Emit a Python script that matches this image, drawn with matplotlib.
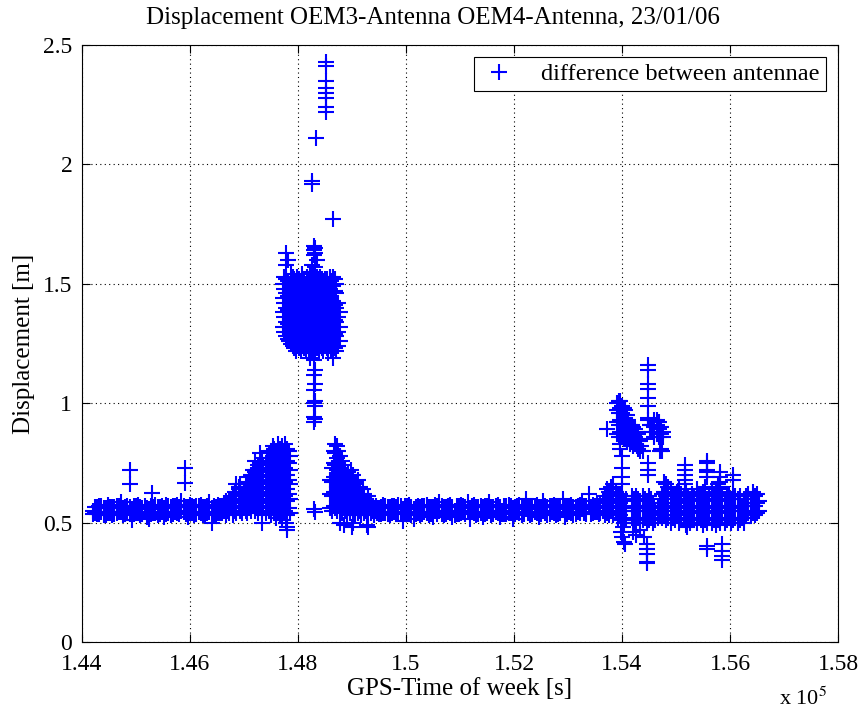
import matplotlib.pyplot as plt
import numpy as np

plt.rcParams['font.family'] = ['Liberation Serif', 'DejaVu Serif']
plt.rcParams['mathtext.fontset'] = 'stix'

# GPS time of week [s] / displacement [m] between the OEM3 and OEM4 antennae

# quiet stretch at the start of the session (two solutions per epoch)
base_a_t = [144200, 144240, 144280, 144320, 144360, 144400, 144440, 144480, 144520, 144560,
            144600, 144640, 144680, 144720, 144760, 144800, 144840, 144880, 144920, 144960,
            145000, 145040, 145080, 145120, 145160, 145200, 145240, 145280, 145320, 145360,
            145400, 145440, 145480, 145520, 145560, 145600, 145640, 145680, 145720, 145760,
            145800, 145840, 145880, 145920, 145960, 146000, 146040, 146080, 146120, 146160,
            146200, 146240, 146280, 146320, 146360, 146400, 146440, 146480, 146520, 146560]
base_a_y = [0.55, 0.565, 0.535, 0.57, 0.545, 0.56, 0.53, 0.575, 0.54, 0.565,
            0.535, 0.57, 0.545, 0.585, 0.53, 0.565, 0.55, 0.535, 0.51, 0.57,
            0.54, 0.575, 0.53, 0.56, 0.545, 0.525, 0.515, 0.57, 0.54, 0.575,
            0.53, 0.565, 0.545, 0.525, 0.575, 0.54, 0.53, 0.57, 0.545, 0.575,
            0.535, 0.59, 0.545, 0.565, 0.525, 0.575, 0.54, 0.53, 0.57, 0.545,
            0.575, 0.53, 0.565, 0.54, 0.585, 0.50, 0.57, 0.535, 0.575, 0.54]
base_a_y2 = [0.535, 0.54, 0.565, 0.535, 0.57, 0.53, 0.56, 0.54, 0.565, 0.53,
             0.565, 0.54, 0.57, 0.545, 0.56, 0.535, 0.57, 0.565, 0.555, 0.535,
             0.57, 0.54, 0.565, 0.535, 0.57, 0.56, 0.555, 0.535, 0.565, 0.54,
             0.565, 0.535, 0.57, 0.56, 0.535, 0.57, 0.565, 0.535, 0.57, 0.54,
             0.565, 0.55, 0.57, 0.535, 0.565, 0.54, 0.57, 0.565, 0.535, 0.57,
             0.54, 0.565, 0.535, 0.57, 0.545, 0.56, 0.535, 0.565, 0.54, 0.57]

# quiet stretch in the middle of the session (two solutions per epoch)
base_b_t = [149500, 149540, 149580, 149620, 149660, 149700, 149740, 149780, 149820, 149860,
            149900, 149940, 149980, 150020, 150060, 150100, 150140, 150180, 150220, 150260,
            150300, 150340, 150380, 150420, 150460, 150500, 150540, 150580, 150620, 150660,
            150700, 150740, 150780, 150820, 150860, 150900, 150940, 150980, 151020, 151060,
            151100, 151140, 151180, 151220, 151260, 151300, 151340, 151380, 151420, 151460,
            151500, 151540, 151580, 151620, 151660, 151700, 151740, 151780, 151820, 151860,
            151900, 151940, 151980, 152020, 152060, 152100, 152140, 152180, 152220, 152260,
            152300, 152340, 152380, 152420, 152460, 152500, 152540, 152580, 152620, 152660,
            152700, 152740, 152780, 152820, 152860, 152900, 152940, 152980, 153020, 153060,
            153100, 153140, 153180, 153220, 153260, 153300, 153340, 153380, 153420, 153460,
            153500, 153540, 153580]
base_b_y = [0.56, 0.535, 0.575, 0.54, 0.565, 0.53, 0.57, 0.545, 0.535, 0.575,
            0.54, 0.505, 0.57, 0.545, 0.575, 0.53, 0.515, 0.565, 0.54, 0.53,
            0.57, 0.545, 0.575, 0.53, 0.565, 0.525, 0.55, 0.57, 0.585, 0.535,
            0.53, 0.565, 0.545, 0.575, 0.525, 0.55, 0.57, 0.535, 0.575, 0.545,
            0.565, 0.585, 0.515, 0.545, 0.575, 0.53, 0.565, 0.54, 0.525, 0.57,
            0.54, 0.585, 0.53, 0.565, 0.545, 0.575, 0.525, 0.55, 0.57, 0.535,
            0.575, 0.54, 0.515, 0.565, 0.545, 0.575, 0.53, 0.565, 0.60, 0.54,
            0.53, 0.57, 0.545, 0.575, 0.525, 0.565, 0.59, 0.54, 0.53, 0.57,
            0.545, 0.575, 0.53, 0.565, 0.54, 0.60, 0.525, 0.57, 0.545, 0.575,
            0.53, 0.565, 0.545, 0.575, 0.59, 0.54, 0.57, 0.62, 0.535, 0.575,
            0.545, 0.58, 0.56]
base_b_y2 = [0.535, 0.565, 0.54, 0.57, 0.535, 0.565, 0.54, 0.57, 0.565, 0.54,
             0.57, 0.555, 0.535, 0.57, 0.54, 0.565, 0.555, 0.535, 0.57, 0.565,
             0.535, 0.57, 0.54, 0.565, 0.535, 0.565, 0.575, 0.535, 0.55, 0.57,
             0.565, 0.535, 0.57, 0.54, 0.565, 0.53, 0.535, 0.57, 0.54, 0.57,
             0.535, 0.55, 0.56, 0.57, 0.54, 0.565, 0.535, 0.57, 0.565, 0.535,
             0.57, 0.55, 0.565, 0.535, 0.57, 0.54, 0.565, 0.535, 0.535, 0.57,
             0.54, 0.57, 0.56, 0.535, 0.57, 0.54, 0.565, 0.535, 0.555, 0.57,
             0.565, 0.535, 0.57, 0.54, 0.565, 0.535, 0.55, 0.57, 0.565, 0.535,
             0.57, 0.54, 0.565, 0.535, 0.57, 0.555, 0.565, 0.535, 0.57, 0.54,
             0.565, 0.535, 0.57, 0.54, 0.555, 0.57, 0.535, 0.57, 0.565, 0.54,
             0.57, 0.545, 0.535]

# epochs with several solutions: time -> displacements
rise = {
    146600: [0.54, 0.57], 146630: [0.55, 0.58], 146660: [0.53, 0.56, 0.59],
    146700: [0.55, 0.58], 146730: [0.54, 0.57, 0.60], 146760: [0.56, 0.59],
    146800: [0.53, 0.57, 0.61], 146830: [0.55, 0.60, 0.63], 146860: [0.54, 0.58, 0.62, 0.66],
    146900: [0.56, 0.60, 0.64, 0.65], 146930: [0.55, 0.59, 0.63, 0.66], 146960: [0.54, 0.58, 0.62],
    147000: [0.56, 0.60, 0.64], 147030: [0.55, 0.59, 0.63, 0.67], 147060: [0.54, 0.58, 0.62, 0.66],
    147100: [0.56, 0.61, 0.65, 0.69], 147130: [0.55, 0.60, 0.64, 0.70], 147160: [0.57, 0.62, 0.67, 0.72],
    147200: [0.55, 0.60, 0.65, 0.71, 0.76], 147230: [0.56, 0.61, 0.66, 0.72],
    147260: [0.54, 0.59, 0.64, 0.69, 0.74], 147300: [0.56, 0.62, 0.67, 0.73, 0.79],
    147330: [0.55, 0.60, 0.66, 0.71, 0.77], 147340: [0.50, 0.75], 147360: [0.57, 0.63, 0.68, 0.74],
    147400: [0.54, 0.59, 0.65, 0.70, 0.75], 147430: [0.56, 0.61, 0.67, 0.72, 0.77],
    147460: [0.55, 0.62, 0.68, 0.74, 0.79], 147500: [0.53, 0.58, 0.64, 0.70, 0.76, 0.80],
    147530: [0.56, 0.61, 0.67, 0.73, 0.78, 0.82], 147560: [0.54, 0.60, 0.66, 0.71, 0.77, 0.81],
    147600: [0.52, 0.57, 0.63, 0.69, 0.75, 0.80], 147630: [0.55, 0.61, 0.67, 0.72, 0.78, 0.83],
    147660: [0.53, 0.59, 0.65, 0.70, 0.76, 0.81], 147700: [0.51, 0.56, 0.62, 0.68, 0.74, 0.79, 0.82],
    147730: [0.54, 0.60, 0.66, 0.71, 0.77, 0.80], 147760: [0.55, 0.61, 0.67, 0.73, 0.78, 0.83],
    147780: [0.50], 147790: [0.48], 147800: [0.47, 0.53, 0.59, 0.64, 0.70, 0.76, 0.81],
    147830: [0.56, 0.62, 0.68, 0.75, 0.80], 147860: [0.54, 0.60, 0.66, 0.72, 0.78],
}

jump = {
    147720: [1.32, 1.38, 1.44, 1.50], 147750: [1.30, 1.36, 1.42, 1.48, 1.53],
    147780: [1.28, 1.34, 1.40, 1.46, 1.52, 1.58, 1.63], 147810: [1.27, 1.33, 1.39, 1.45, 1.51, 1.60],
    147840: [1.26, 1.32, 1.38, 1.44, 1.50], 147870: [1.25, 1.31, 1.37, 1.43, 1.49, 1.54],
    147900: [1.24, 1.30, 1.36, 1.42, 1.48, 1.53], 147930: [1.23, 1.29, 1.35, 1.41, 1.47, 1.52],
    147960: [1.22, 1.28, 1.34, 1.40, 1.46, 1.51], 147990: [1.24, 1.30, 1.36, 1.42, 1.48, 1.53],
    148020: [1.23, 1.29, 1.35, 1.41, 1.47, 1.52], 148050: [1.22, 1.28, 1.34, 1.40, 1.46, 1.51],
    148080: [1.25, 1.31, 1.37, 1.43, 1.49, 1.54], 148110: [1.23, 1.29, 1.35, 1.41, 1.47, 1.52],
    148140: [1.22, 1.28, 1.34, 1.40, 1.46, 1.50], 148170: [1.24, 1.30, 1.36, 1.42, 1.48, 1.53],
    148200: [1.21, 1.27, 1.33, 1.39, 1.45, 1.51], 148230: [1.19, 1.25, 1.31, 1.37, 1.43, 1.49, 1.55],
    148260: [1.22, 1.28, 1.34, 1.40, 1.46, 1.52, 1.58, 1.93, 1.92],
    148290: [1.24, 1.30, 1.36, 1.42, 1.48, 1.54, 1.62, 1.64, 1.66],
    148320: [1.21, 1.27, 1.33, 1.39, 1.45, 1.51, 1.57, 1.63, 1.65],
    148335: [2.11],
    148350: [1.23, 1.29, 1.35, 1.41, 1.47, 1.53, 1.60], 148380: [1.22, 1.28, 1.34, 1.40, 1.46, 1.52],
    148410: [1.24, 1.30, 1.36, 1.42, 1.48, 1.53], 148440: [1.23, 1.29, 1.35, 1.41, 1.47, 1.52],
    148470: [1.22, 1.28, 1.34, 1.40, 1.46, 1.51], 148500: [1.24, 1.30, 1.36, 1.42, 1.48, 1.52],
    148520: [2.43, 2.41, 2.35, 2.32, 2.30, 2.28, 2.24, 2.22],
    148530: [1.23, 1.29, 1.35, 1.41, 1.47, 1.52], 148560: [1.21, 1.27, 1.33, 1.39, 1.45, 1.50],
    148590: [1.24, 1.30, 1.36, 1.42, 1.48, 1.53], 148620: [1.22, 1.28, 1.34, 1.40, 1.46, 1.51],
    148650: [1.19, 1.25, 1.31, 1.37, 1.43, 1.49, 1.53, 1.77], 148680: [1.23, 1.29, 1.35, 1.41, 1.47, 1.52],
    148710: [1.22, 1.28, 1.34, 1.40, 1.46, 1.50], 148740: [1.24, 1.30, 1.36, 1.42],
    148770: [1.26, 1.32, 1.38],
}

# single column falling back from the jump
drop = {
    148305: [1.18, 1.12, 1.055, 1.00, 0.944, 0.923, 0.555],
    148320: [1.14, 1.08, 1.01, 0.99, 0.933, 0.545],
}

decay = {
    148600: [0.56, 0.62, 0.68], 148630: [0.55, 0.61, 0.67, 0.73],
    148660: [0.57, 0.63, 0.69, 0.75, 0.80], 148690: [0.56, 0.62, 0.68, 0.74, 0.79, 0.83],
    148720: [0.55, 0.61, 0.67, 0.72, 0.77, 0.82], 148750: [0.57, 0.63, 0.69, 0.75, 0.80],
    148780: [0.50, 0.56, 0.62, 0.67, 0.73, 0.78], 148810: [0.54, 0.60, 0.66, 0.71, 0.76],
    148840: [0.57, 0.62, 0.68, 0.74], 148850: [0.49], 148870: [0.55, 0.61, 0.67, 0.72],
    148900: [0.53, 0.58, 0.64, 0.70], 148930: [0.56, 0.61, 0.66, 0.71],
    148960: [0.54, 0.59, 0.65, 0.69], 148990: [0.56, 0.61, 0.66, 0.72], 149000: [0.48],
    149020: [0.50, 0.55, 0.60, 0.65, 0.70], 149050: [0.53, 0.58, 0.63, 0.67],
    149080: [0.56, 0.61, 0.66], 149110: [0.54, 0.59, 0.64, 0.68], 149140: [0.55, 0.60, 0.65],
    149170: [0.53, 0.58, 0.62], 149200: [0.56, 0.60, 0.64], 149230: [0.54, 0.58, 0.62],
    149260: [0.55, 0.59], 149270: [0.49], 149290: [0.48, 0.53, 0.57, 0.61], 149320: [0.56, 0.59],
    149350: [0.54, 0.58], 149380: [0.55, 0.57], 149410: [0.53, 0.56], 149440: [0.55, 0.57],
    149470: [0.54, 0.56],
}

tail = {
    153600: [0.54, 0.58], 153640: [0.55, 0.60], 153680: [0.53, 0.57, 0.61],
    153715: [0.54, 0.59, 0.64, 0.89], 153760: [0.53, 0.58, 0.63], 153800: [0.55, 0.60, 0.65],
    153840: [0.53, 0.58, 0.62, 0.66], 153880: [0.54, 0.59, 0.63], 153920: [0.52, 0.57, 0.61],
    153960: [0.53, 0.58, 0.62], 153980: [0.46], 154000: [0.44, 0.51, 0.56, 0.60],
    154010: [0.48], 154030: [0.42], 154040: [0.50, 0.55, 0.59], 154060: [0.41],
    154080: [0.51, 0.56, 0.60],
    154180: [0.52, 0.57, 0.61], 154200: [0.46], 154220: [0.50, 0.55, 0.60],
    154260: [0.45, 0.51, 0.56, 0.61], 154300: [0.52, 0.57, 0.60], 154330: [0.47],
    154340: [0.50, 0.55, 0.59], 154380: [0.51, 0.56, 0.61], 154400: [0.44],
    154420: [0.52, 0.57, 0.60], 154460: [0.33, 0.335, 0.37, 0.39, 0.41, 0.50, 0.55, 0.59],
    154500: [0.51, 0.56, 0.61], 154540: [0.52, 0.57, 0.60], 154580: [0.50, 0.54, 0.58],
    154620: [0.51, 0.55], 154660: [0.52, 0.56],
    154700: [0.53, 0.58], 154740: [0.52, 0.57, 0.62], 154780: [0.53, 0.58, 0.63, 0.67],
    154820: [0.51, 0.56, 0.61, 0.66], 154860: [0.52, 0.57, 0.62, 0.65],
    154900: [0.50, 0.55, 0.60, 0.64], 154940: [0.52, 0.57, 0.62], 154980: [0.51, 0.56, 0.61],
    155020: [0.53, 0.58, 0.63], 155060: [0.50, 0.55, 0.60, 0.64], 155100: [0.52, 0.57, 0.62],
    155140: [0.51, 0.56, 0.61], 155168: [0.66, 0.68, 0.70, 0.72, 0.74],
    155180: [0.49, 0.54, 0.59, 0.63], 155205: [0.48], 155220: [0.51, 0.56, 0.61],
    155260: [0.50, 0.55, 0.60], 155300: [0.52, 0.57, 0.62], 155340: [0.51, 0.56, 0.61],
    155380: [0.50, 0.55, 0.60, 0.64], 155420: [0.52, 0.57, 0.62], 155460: [0.51, 0.56, 0.61],
    155500: [0.49, 0.54, 0.59, 0.63], 155540: [0.51, 0.56, 0.61, 0.65],
    155575: [0.39, 0.40, 0.69, 0.71, 0.72, 0.75, 0.76],
    155580: [0.50, 0.55, 0.60], 155620: [0.52, 0.57, 0.62], 155660: [0.50, 0.55, 0.60, 0.64],
    155700: [0.51, 0.56, 0.61], 155740: [0.49, 0.54, 0.59, 0.63], 155780: [0.51, 0.56, 0.61, 0.66],
    155816: [0.65, 0.67, 0.69, 0.71], 155820: [0.50, 0.55, 0.60, 0.64],
    155853: [0.345, 0.36, 0.38, 0.41], 155860: [0.52, 0.57, 0.62],
    155900: [0.50, 0.55, 0.60], 155940: [0.51, 0.56, 0.61], 155980: [0.52, 0.57, 0.62],
    156020: [0.50, 0.55, 0.60], 156057: [0.68, 0.70], 156060: [0.51, 0.56, 0.61],
    156100: [0.52, 0.57, 0.61], 156140: [0.50, 0.55, 0.60], 156180: [0.51, 0.56, 0.61],
    156220: [0.52, 0.57], 156260: [0.50, 0.55, 0.60], 156300: [0.53, 0.57, 0.61],
    156340: [0.54, 0.58, 0.62], 156380: [0.53, 0.57, 0.60], 156420: [0.54, 0.58, 0.63],
    156460: [0.53, 0.57, 0.61], 156500: [0.54, 0.58, 0.62], 156540: [0.55, 0.59],
}

tail_high = {
    153910: [0.87, 0.92, 0.97, 1.00], 153940: [0.86, 0.91, 0.96, 1.01],
    153960: [0.81, 0.83], 153970: [0.88, 0.93, 0.98, 1.01],
    154000: [0.66, 0.69, 0.73, 0.78, 0.86, 0.91, 0.96, 0.99], 154030: [0.85, 0.90, 0.95, 0.98],
    154060: [0.86, 0.90, 0.94, 0.97], 154090: [0.84, 0.88, 0.92, 0.95],
    154120: [0.85, 0.89, 0.93], 154150: [0.83, 0.87, 0.91], 154180: [0.84, 0.88, 0.91],
    154210: [0.82, 0.86, 0.90], 154240: [0.83, 0.86, 0.89], 154270: [0.82, 0.85, 0.88],
    154300: [0.81, 0.84, 0.87], 154330: [0.80, 0.84], 154360: [0.82, 0.85], 154390: [0.80],
    154480: [0.70, 0.72, 0.75, 0.93, 0.94, 0.99, 1.02, 1.06, 1.08, 1.14, 1.16],
    154520: [0.88, 0.91], 154560: [0.88, 0.91], 154600: [0.86, 0.90, 0.93],
    154640: [0.87, 0.91, 0.93], 154680: [0.86, 0.89, 0.92], 154700: [0.80],
    154720: [0.81, 0.87, 0.90], 154740: [0.80], 154760: [0.86, 0.88],
}

# isolated readings on the quiet stretch
single_t = [144894, 144894, 145295, 145911, 145911]
single_y = [0.72, 0.66, 0.625, 0.727, 0.667]

x_ticks = [1.44, 1.46, 1.48, 1.5, 1.52, 1.54, 1.56, 1.58]
y_ticks = [0, 0.5, 1, 1.5, 2, 2.5]


def flatten(groups):
    ts, ys = [], []
    for t, vals in groups.items():
        for v in vals:
            ts.append(t)
            ys.append(v)
    return ts, ys


t_all = base_a_t + base_a_t + base_b_t + base_b_t + single_t
d_all = base_a_y + base_a_y2 + base_b_y + base_b_y2 + single_y
for grp in (rise, jump, drop, decay, tail, tail_high):
    ts, ys = flatten(grp)
    t_all += ts
    d_all += ys

t_all = np.array(t_all) / 1e5
d_all = np.array(d_all)

fig = plt.figure(figsize=(8.61, 7.11), dpi=100)
ax = fig.add_axes([82 / 861, 69 / 711, 756 / 861, 597 / 711])

ax.plot(t_all, d_all, '+', color='b', markersize=11.5, markeredgewidth=1.5,
        label='difference between antennae')

ax.set_xlim(1.44, 1.58)
ax.set_ylim(0, 2.5)
ax.set_xticks(x_ticks)
ax.set_xticklabels(['%g' % v for v in x_ticks])
ax.set_yticks(y_ticks)
ax.set_yticklabels(['%g' % v for v in y_ticks])
ax.tick_params(direction='in', length=6, width=0.8, top=True, right=True,
               labelsize=17)
ax.tick_params(axis='x', pad=9)
ax.tick_params(axis='y', pad=7)
ax.grid(True, color='k', linewidth=0.8, linestyle=(0, (1, 3)))
ax.set_axisbelow(True)
for sp in ax.spines.values():
    sp.set_linewidth(0.8)

ax.set_xlabel('GPS-Time of week [s]', fontsize=18, labelpad=2)
ax.set_ylabel('Displacement [m]', fontsize=18, labelpad=6)
fig.text(433 / 861, 1 - 18 / 711, 'Displacement OEM3-Antenna OEM4-Antenna, 23/01/06',
         ha='center', va='center', fontsize=18)
ax.text(0.985, -0.095, r'x 10$^5$', transform=ax.transAxes, ha='right', va='center',
        fontsize=16)

leg = ax.legend(loc='upper right', bbox_to_anchor=(0.984, 0.98), borderaxespad=0,
                fancybox=False, edgecolor='k', framealpha=1, fontsize=17.5,
                handlelength=1.5, handletextpad=1.0, borderpad=0.25)
leg.get_frame().set_linewidth(0.8)

fig.savefig('out.png', dpi=100)
